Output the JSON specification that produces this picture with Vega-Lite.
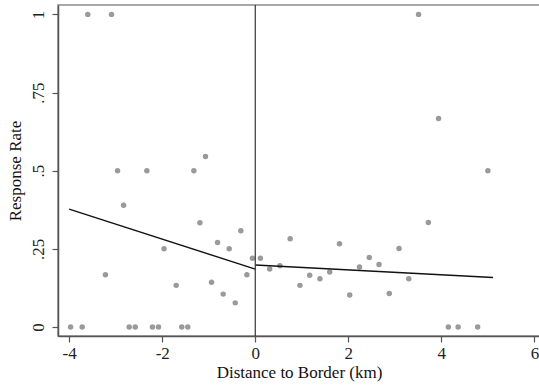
{
  "$schema": "https://vega.github.io/schema/vega-lite/v6.json",
  "autosize": "none",
  "width": 482,
  "height": 331,
  "padding": {"left": 58, "top": 5, "right": 0, "bottom": 55},
  "background": "white",
  "config": {
    "view": {"stroke": "#8c8c8c", "strokeWidth": 1.5},
    "font": "Liberation Serif",
    "axis": {
      "labelFont": "Liberation Serif",
      "titleFont": "Liberation Serif",
      "labelFontSize": 17,
      "titleFontSize": 17,
      "titleFontWeight": "normal",
      "labelColor": "#222",
      "titleColor": "#111",
      "domainColor": "#555",
      "domainWidth": 1.5,
      "tickColor": "#555",
      "tickWidth": 1.2,
      "tickSize": 6,
      "grid": false
    }
  },
  "datasets": {
    "pts": [
      {"d": -3.97, "r": 0}, {"d": -3.72, "r": 0}, {"d": -3.60, "r": 1}, {"d": -3.22, "r": 0.167},
      {"d": -3.09, "r": 1}, {"d": -2.96, "r": 0.5}, {"d": -2.83, "r": 0.389}, {"d": -2.71, "r": 0},
      {"d": -2.58, "r": 0}, {"d": -2.33, "r": 0.5}, {"d": -2.21, "r": 0}, {"d": -2.08, "r": 0},
      {"d": -1.96, "r": 0.25}, {"d": -1.70, "r": 0.133}, {"d": -1.58, "r": 0}, {"d": -1.45, "r": 0},
      {"d": -1.32, "r": 0.5}, {"d": -1.19, "r": 0.333}, {"d": -1.07, "r": 0.545}, {"d": -0.94, "r": 0.143},
      {"d": -0.81, "r": 0.27}, {"d": -0.69, "r": 0.105}, {"d": -0.56, "r": 0.25}, {"d": -0.43, "r": 0.077},
      {"d": -0.31, "r": 0.308}, {"d": -0.18, "r": 0.167}, {"d": -0.06, "r": 0.22},
      {"d": 0.11, "r": 0.22}, {"d": 0.31, "r": 0.185}, {"d": 0.53, "r": 0.196}, {"d": 0.75, "r": 0.282},
      {"d": 0.96, "r": 0.133}, {"d": 1.17, "r": 0.165}, {"d": 1.39, "r": 0.154}, {"d": 1.60, "r": 0.176},
      {"d": 1.81, "r": 0.266}, {"d": 2.03, "r": 0.102}, {"d": 2.24, "r": 0.192}, {"d": 2.45, "r": 0.222},
      {"d": 2.66, "r": 0.2}, {"d": 2.88, "r": 0.107}, {"d": 3.09, "r": 0.251}, {"d": 3.30, "r": 0.154},
      {"d": 3.51, "r": 1}, {"d": 3.72, "r": 0.334}, {"d": 3.94, "r": 0.667}, {"d": 4.15, "r": 0},
      {"d": 4.36, "r": 0}, {"d": 4.78, "r": 0}, {"d": 5.0, "r": 0.5}
    ],
    "fit": [
      {"side": "left", "d": -4.0, "r": 0.377},
      {"side": "left", "d": 0.0, "r": 0.185},
      {"side": "right", "d": 0.0, "r": 0.198},
      {"side": "right", "d": 5.11, "r": 0.158}
    ],
    "cut": [{"d": 0}]
  },
  "layer": [
    {
      "data": {"name": "pts"},
      "mark": {"type": "circle", "size": 30, "color": "#9a9a9a", "opacity": 1},
      "encoding": {
        "x": {
          "field": "d", "type": "quantitative",
          "scale": {"domain": [-4.24, 6.12], "nice": false, "zero": false},
          "axis": {"values": [-4, -2, 0, 2, 4, 6], "title": "Distance to Border (km)", "labelPadding": 3, "titlePadding": 3,
                   "labelExpr": "'' + datum.value"}
        },
        "y": {
          "field": "r", "type": "quantitative",
          "scale": {"domain": [-0.029, 1.03], "nice": false, "zero": false},
          "axis": {
            "values": [0, 0.25, 0.5, 0.75, 1],
            "title": "Response Rate",
            "labelAngle": -90,
            "labelAlign": "center",
            "labelBaseline": "bottom",
            "labelPadding": 5,
            "titlePadding": 5,
            "labelExpr": "datum.value == 0 ? '0' : datum.value == 1 ? '1' : replace(format(datum.value, '.2~f'), '0.', '.')"
          }
        }
      }
    },
    {
      "data": {"name": "fit"},
      "mark": {"type": "line", "color": "#111", "strokeWidth": 1.4},
      "encoding": {
        "x": {"field": "d", "type": "quantitative"},
        "y": {"field": "r", "type": "quantitative"},
        "detail": {"field": "side"}
      }
    },
    {
      "data": {"name": "cut"},
      "mark": {"type": "rule", "color": "#333", "strokeWidth": 1.2},
      "encoding": {"x": {"field": "d", "type": "quantitative"}}
    }
  ]
}
